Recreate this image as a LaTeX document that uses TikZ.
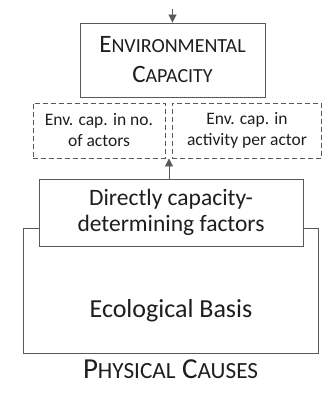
\documentclass[tikz,border=0pt]{standalone}
\usepackage{fontspec}
\setmainfont{Carlito}
\usepackage{xcolor}
\usetikzlibrary{
    arrows.meta,
    calc,
    positioning
}
\definecolor{linegray}{RGB}{89,89,89}
\definecolor{textgray}{RGB}{30,30,30}
\newcommand{\bigsize}{\fontsize{25}{30}\selectfont}
\newcommand{\scsize}{\fontsize{20}{30}\selectfont}
\tikzset{
    solidbox/.style={draw=linegray, line width=0.9pt, fill=white, align=center, inner sep=0pt},
    dashbox/.style={draw=linegray, line width=0.9pt, dash pattern=on 5pt off 3pt, align=center, inner sep=0pt,
        minimum height=55pt, font=\fontsize{17.5}{21}\selectfont},
    uparrow/.style={draw=linegray, line width=0.9pt, -{Triangle[length=8pt,width=8pt]}}
}

\begin{document}
\begin{tikzpicture}[x=1pt, y=-1pt, text=textgray]
                        \useasboundingbox (0, 0) rectangle (323, 417);
                        \node[solidbox, minimum width=295pt, minimum height=125pt] (ecology) at (170.5, 290.5) {};
                        \node[solidbox, minimum width=185pt, minimum height=74pt, font=\bigsize] (capacity) at (172.5, 60)
                            {E{\scsize NVIRONMENTAL}\\C{\scsize APACITY}};
                        \node[dashbox, minimum width=132pt] (actors) at (99, 130.5) {Env. cap. in no.\\of actors};
                        \node[dashbox, minimum width=149.5pt] (activity) at (247, 130.5) {Env. cap. in\\activity per actor};
                        \node[solidbox, minimum width=264pt, minimum height=67pt, font=\fontsize{23.5}{26}\selectfont] (factors) at (171, 212.5)
                            {Directly capacity-\\determining factors};
                        \node[font=\fontsize{26}{30}\selectfont] (basis) at (171, 311) {Ecological Basis};
                        \node[font=\fontsize{29}{32}\selectfont] (causes) at (170.5, 369) {P{\fontsize{23.2}{32}\selectfont HYSICAL} C{\fontsize{23.2}{32}\selectfont AUSES}};
                        \coordinate (topin) at (172.5, 9);
                        \draw[uparrow] (topin) -- (capacity.north);
                        \draw[uparrow] (factors.north -| 169, 0) -- (actors.south -| 169, 0);
                    \end{tikzpicture}
\end{document}
